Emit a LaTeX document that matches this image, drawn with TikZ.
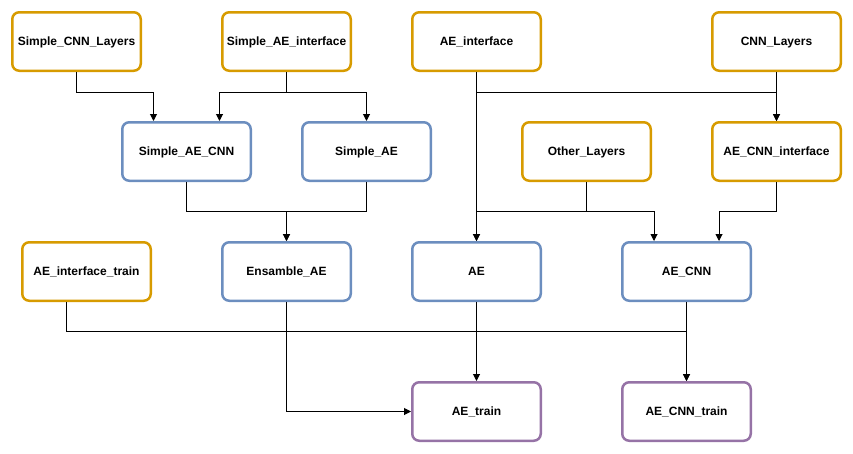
\documentclass[tikz,border=0pt]{standalone}
\usepackage{fontspec}
\setmainfont{Liberation Sans}
\usetikzlibrary{arrows.meta,calc}
\definecolor{orangeS}{HTML}{D79B00}
\definecolor{blueS}{HTML}{6C8EBF}
\definecolor{purpleS}{HTML}{9673A6}
\begin{document}
\begin{tikzpicture}[x=1pt,y=-1pt,
  box/.style={draw, line width=2.5pt, rounded corners=7pt, fill=white,
    minimum width=128.5pt, minimum height=58.5pt, inner sep=0pt,
    text height=8.6pt, text depth=0pt,
    font=\fontsize{12}{14}\selectfont\bfseries},
  obox/.style={box, draw=orangeS},
  bbox/.style={box, draw=blueS},
  pbox/.style={box, draw=purpleS},
  arr/.style={draw=black, line width=1pt, -{Triangle[length=7pt,width=7pt]}},
  ln/.style={draw=black, line width=1pt}]
\useasboundingbox (0,0) rectangle (853,453);
% row 1
\node[obox] (SCL)  at (76.5,41.5) {Simple\_CNN\_Layers};
\node[obox] (SAEI) at (286.5,41.5) {Simple\_AE\_interface};
\node[obox] (AEI)  at (476.5,41.5) {AE\_interface};
\node[obox] (CNNL) at (776.5,41.5) {CNN\_Layers};
% row 2
\node[bbox] (SAECNN) at (186.5,151.5) {Simple\_AE\_CNN};
\node[bbox] (SAE)    at (366.5,151.5) {Simple\_AE};
\node[obox] (OL)     at (586.5,151.5) {Other\_Layers};
\node[obox] (AECNNI) at (776.5,151.5) {AE\_CNN\_interface};
% row 3
\node[obox] (AEIT)  at (86.5,271.5) {AE\_interface\_train};
\node[bbox] (EAE)   at (286.5,271.5) {Ensamble\_AE};
\node[bbox] (AE)    at (476.5,271.5) {AE};
\node[bbox] (AECNN) at (686.5,271.5) {AE\_CNN};
% row 4
\node[pbox] (AET)    at (476.5,411.5) {AE\_train};
\node[pbox] (AECNNT) at (686.5,411.5) {AE\_CNN\_train};
% connectors
\draw[arr] (SCL.south) -- ++(0,20) -| ([xshift=-33pt]SAECNN.north);
\draw[arr] (SAEI.south) -- ++(0,20) -| ([xshift=33pt]SAECNN.north);
\draw[arr] (SAEI.south) -- ++(0,20) -| (SAE.north);
\draw[arr] (AEI.south) -- (AE.north);
\draw[arr] (AEI.south) -- ++(0,20) -| (AECNNI.north);
\draw[arr] (CNNL.south) -- (AECNNI.north);
\draw[arr] (SAECNN.south) -- ++(0,29) -| (EAE.north);
\draw[arr] (SAE.south) -- ++(0,29) -| (EAE.north);
\draw[arr] (OL.south) -- ++(0,29) -| (AE.north);
\draw[arr] (OL.south) -- ++(0,29) -| ([xshift=-32.5pt]AECNN.north);
\draw[arr] (AECNNI.south) -- ++(0,29) -| ([xshift=32.5pt]AECNN.north);
\draw[arr] ([xshift=-20pt]AEIT.south) -- ++(0,29) -| (AECNNT.north);
\draw[arr] (AE.south) -- (AET.north);
\draw[arr] (AECNN.south) -- (AECNNT.north);
\draw[arr] (EAE.south) |- (AET.west);
\end{tikzpicture}
\end{document}
